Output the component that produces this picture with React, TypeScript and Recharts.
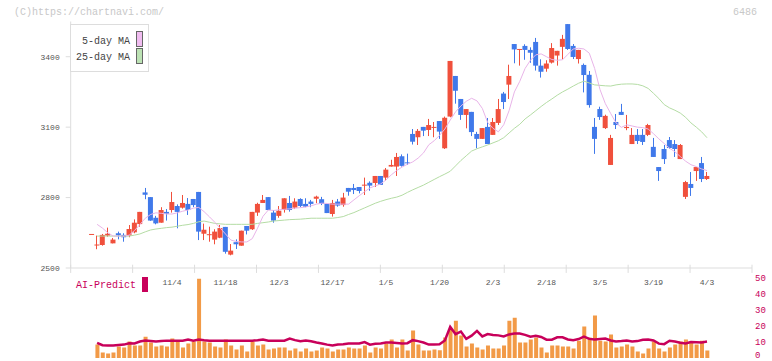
import React from "react";
import { ComposedChart, Bar, Line, XAxis, YAxis, ReferenceLine } from "recharts";

const MONO = "'Liberation Mono', 'DejaVu Sans Mono', monospace";
const RED = "#f0503c";
const BLUE = "#4079ea";
const CRIMSON = "#c8005a";

// daily candles (index 0 .. 115)
const openP = [
  2645, 2598, 2598, 2638, 2605, 2648, 2641, 2638, 2652, 2687,
  2822, 2802, 2714, 2693, 2739, 2747, 2764, 2757, 2773, 2794,
  2824, 2646, 2641, 2621, 2629, 2675, 2557, 2610, 2595, 2679,
  2665, 2736, 2777, 2802, 2736, 2722, 2747, 2777, 2757, 2794,
  2773, 2783, 2795, 2793, 2773, 2730, 2783, 2768, 2841, 2841,
  2845, 2851, 2863, 2862, 2892, 2885, 2932, 2932, 2976, 2950,
  3071, 3057, 3101, 3088, 3098, 3126, 3010, 3145, 3318, 3220,
  3152, 3165, 3071, 3050, 3101, 3067, 3118, 3243, 3281, 3454,
  3430, 3446, 3429, 3463, 3362, 3349, 3375, 3405, 3442, 3539,
  3446, 3390, 3365, 3323, 3101, 3177, 3096, 2939, 3122, 3165,
  3096, 3028, 3067, 3067, 3067, 3016, 2930, 3007, 3045, 3028,
  2964, 2803, 2858, 2913, 2947, 2879,
];
const highP = [
  2645, 2638, 2645, 2672, 2628, 2655, 2648, 2683, 2707, 2739,
  2841, 2802, 2722, 2759, 2751, 2824, 2771, 2811, 2798, 2794,
  2824, 2689, 2676, 2665, 2683, 2675, 2602, 2622, 2659, 2679,
  2739, 2778, 2811, 2802, 2747, 2764, 2797, 2807, 2797, 2797,
  2797, 2790, 2808, 2803, 2773, 2790, 2794, 2820, 2841, 2858,
  2845, 2885, 2869, 2892, 2892, 2926, 2961, 2990, 2984, 2987,
  3092, 3092, 3101, 3135, 3122, 3126, 3145, 3382, 3318, 3220,
  3177, 3165, 3080, 3096, 3139, 3139, 3220, 3250, 3366, 3454,
  3433, 3453, 3440, 3480, 3389, 3385, 3458, 3425, 3493, 3539,
  3454, 3429, 3371, 3339, 3139, 3187, 3153, 3067, 3156, 3199,
  3152, 3096, 3092, 3092, 3114, 3054, 2930, 3024, 3058, 3045,
  3028, 2871, 2909, 2930, 2973, 2909,
];
const lowP = [
  2645, 2580, 2595, 2633, 2605, 2622, 2612, 2631, 2648, 2676,
  2793, 2701, 2686, 2693, 2702, 2736, 2669, 2753, 2726, 2759,
  2619, 2619, 2612, 2601, 2627, 2561, 2554, 2581, 2595, 2643,
  2662, 2722, 2777, 2747, 2693, 2714, 2736, 2740, 2751, 2759,
  2759, 2759, 2776, 2768, 2734, 2719, 2761, 2761, 2808, 2815,
  2818, 2811, 2829, 2845, 2854, 2872, 2932, 2892, 2932, 2939,
  3026, 3024, 3062, 3062, 3057, 3050, 3007, 3142, 3200, 3131,
  3095, 3062, 3010, 3050, 3028, 3067, 3109, 3177, 3220, 3372,
  3362, 3387, 3374, 3341, 3311, 3336, 3371, 3362, 3389, 3429,
  3390, 3371, 3248, 3183, 2986, 3131, 3092, 2939, 3092, 3152,
  3087, 3028, 3028, 3024, 3062, 2973, 2871, 2943, 3007, 2973,
  2964, 2794, 2807, 2871, 2866, 2875,
];
const closeP = [
  2645, 2600, 2641, 2646, 2621, 2639, 2631, 2666, 2693, 2739,
  2812, 2702, 2690, 2747, 2731, 2781, 2739, 2777, 2747, 2768,
  2655, 2663, 2644, 2655, 2670, 2569, 2574, 2601, 2659, 2659,
  2739, 2773, 2790, 2747, 2702, 2744, 2797, 2747, 2783, 2764,
  2761, 2773, 2804, 2773, 2734, 2777, 2766, 2800, 2825, 2832,
  2828, 2855, 2851, 2892, 2854, 2919, 2939, 2973, 2935, 2946,
  3038, 3084, 3085, 3109, 3101, 3081, 3140, 3382, 3255, 3152,
  3177, 3079, 3050, 3096, 3028, 3122, 3177, 3207, 3318, 3431,
  3433, 3429, 3417, 3362, 3336, 3371, 3437, 3425, 3476, 3433,
  3399, 3429, 3322, 3194, 3050, 3143, 3148, 3054, 3109, 3152,
  3101, 3067, 3041, 3037, 3109, 2973, 2913, 2964, 3011, 3007,
  3024, 2866, 2841, 2930, 2879, 2892,
];

const ma5 = [
  null, 2686, 2670, 2650, 2636, 2636, 2636, 2640, 2660, 2685,
  2712, 2728, 2735, 2733, 2730, 2730, 2735, 2742, 2747, 2755,
  2758, 2740, 2718, 2695, 2670, 2645, 2619, 2613, 2611, 2611,
  2625, 2670, 2720, 2747, 2745, 2748, 2750, 2752, 2755, 2757,
  2760, 2765, 2772, 2776, 2775, 2772, 2772, 2772, 2772, 2790,
  2808, 2825, 2841, 2850, 2858, 2875, 2897, 2915, 2930, 2942,
  2952, 2968, 2990, 3025, 3042, 3065, 3092, 3130, 3165, 3190,
  3210, 3223, 3212, 3180, 3120, 3095, 3080, 3110, 3170, 3250,
  3295, 3350, 3385, 3408, 3412, 3400, 3388, 3385, 3387, 3410,
  3433, 3436, 3433, 3415, 3350, 3260, 3200, 3158, 3118, 3099,
  3110, 3105, 3100, 3098, 3092, 3072, 3050, 3030, 3010, 2995,
  2975, 2955, 2940, 2932, 2922, 2915,
];
const ma25 = [
  null, 2636, 2636, 2636, 2636, 2636, 2636, 2636, 2640, 2645,
  2654, 2662, 2666, 2669, 2672, 2674, 2678, 2682, 2685, 2690,
  2697, 2700, 2695, 2690, 2688, 2686, 2686, 2686, 2686, 2686,
  2686, 2690, 2693, 2696, 2700, 2702, 2704, 2706, 2707, 2708,
  2710, 2712, 2712, 2712, 2712, 2712, 2715, 2719, 2728, 2736,
  2746, 2756, 2766, 2776, 2784, 2791, 2797, 2802, 2810, 2822,
  2833, 2843, 2853, 2865, 2877, 2889, 2900, 2912, 2935, 2958,
  2978, 2998, 3008, 3016, 3024, 3033, 3042, 3055, 3075, 3095,
  3112, 3135, 3152, 3170, 3188, 3205, 3220, 3236, 3250, 3262,
  3275, 3287, 3296, 3288, 3280, 3278, 3276, 3275, 3280, 3283,
  3284, 3284, 3282, 3276, 3265, 3244, 3222, 3196, 3182, 3172,
  3160, 3142, 3118, 3100, 3080, 3055,
];

const volume = [
  null, 8.4, 3.4, 2.8, 3.4, 7.2, 6.6, 10.3, 7.8, 7.8,
  13.4, 9.7, 7.2, 7.8, 7.2, 12.2, 10.3, 6.6, 9.1, 10.3,
  49.7, 10.3, 9.7, 7.2, 6.6, 11.6, 7.8, 5.3, 7.8, 4.1,
  10.3, 7.8, 8.4, 5.3, 5.9, 6.6, 6.6, 4.7, 5.9, 4.1,
  5.9, 4.1, 4.7, 6.6, 5.9, 4.1, 5.3, 5.3, 6.6, 5.9,
  5.9, 7.8, 3.4, 6.6, 5.9, 9.1, 11.6, 6.6, 11.6, 4.7,
  17.2, 8.4, 4.7, 4.7, 5.3, 4.9, 12.8, 17.8, 23.4, 14.1,
  7.2, 9.1, 6.6, 5.3, 7.8, 5.9, 5.9, 7.8, 23.4, 25.3,
  9.7, 9.7, 11.6, 12.8, 6.6, 3.4, 7.8, 7.8, 7.2, 7.2,
  5.9, 10.9, 19.7, 12.8, 26.6, 10.9, 10.3, 14.7, 6.6, 7.2,
  8.4, 7.2, 4.1, 2.8, 5.9, 10.3, 5.9, 4.1, 6.6, 8.4,
  10.3, 11.6, 9.7, 8.4, 10.9, 4.7,
];
const aiPredict = [
  null, 9.5, 8.0, 7.8, 7.8, 8.2, 8.4, 9.3, 9.1, 10.3,
  10.9, 10.6, 10.3, 10.6, 10.9, 10.9, 10.9, 10.9, 11.6, 10.9,
  11.6, 11.2, 10.9, 10.9, 10.9, 10.9, 10.9, 10.9, 10.9, 10.9,
  10.9, 11.2, 11.6, 10.9, 10.9, 10.9, 10.9, 12.2, 11.2, 10.5,
  10.9, 10.5, 9.7, 9.1, 8.4, 7.8, 8.4, 8.7, 9.1, 9.1,
  9.1, 10.0, 8.4, 9.0, 9.1, 9.7, 9.7, 9.4, 9.1, 9.3,
  11.2, 10.6, 9.7, 8.4, 8.4, 8.6, 11.0, 19.5, 15.0, 16.6,
  12.0, 14.0, 17.0, 13.5, 15.0, 14.5, 14.2, 13.5, 14.8, 15.3,
  15.3, 14.5, 13.4, 14.0, 13.2, 11.5, 11.5, 13.0, 13.0, 11.6,
  11.2, 11.9, 13.4, 12.0, 11.6, 11.9, 12.2, 11.0, 10.4, 10.6,
  10.9, 10.4, 10.6, 11.4, 11.6, 11.0, 9.0, 8.7, 10.8, 10.3,
  9.6, 9.1, 10.0, 9.9, 9.7, 10.3,
];

const dateLabels = ["11/4", "11/18", "12/3", "12/17", "1/5", "1/20", "2/3", "2/18", "3/5", "3/19", "4/3"];
const dateIdx = [15, 25, 35, 45, 55, 65, 75, 85, 95, 105, 115];
const priceTicks = [2500, 2800, 3100, 3400];
const volTicks = [0, 10, 20, 30, 40, 50];

const X0 = -3.935;
const X1 = 123.41;
const gridTicks = Array.from({ length: 12 }, (_, k) => X0 + (k * (X1 - X0)) / 11);

const data = openP.map((o, i) => ({
  i,
  o,
  h: highP[i],
  l: lowP[i],
  c: closeP[i],
  range: [lowP[i], highP[i]],
  ma5: ma5[i],
  ma25: ma25[i],
  vol: volume[i],
  ai: aiPredict[i],
}));

function Candle(props: any) {
  const { x, y, width, height, payload } = props;
  const { o, h, l, c } = payload;
  const color = c >= o ? RED : BLUE;
  const k = h > l ? height / (h - l) : 0;
  const py = (v: number) => y + (h - v) * k;
  const top = py(Math.max(o, c));
  const bot = py(Math.min(o, c));
  const cx = Math.floor(x + width / 2) + 0.5;
  return (
    <g>
      <line x1={cx} x2={cx} y1={y} y2={y + height} stroke={color} strokeWidth={1} />
      <rect x={x} y={top} width={width} height={Math.max(bot - top, 1)} fill={color} />
    </g>
  );
}

function DateTick(p: any) {
  const n = dateIdx.indexOf(p.payload.value);
  return (
    <text x={p.x} y={p.y} dy={17} textAnchor="middle" fontSize={8} fill="#555" fontFamily={MONO}>
      {n >= 0 ? dateLabels[n] : ""}
    </text>
  );
}

function VolTick(p: any) {
  // keep the bottom label inside the picture
  const y = Math.min(p.y, 354.5 - 270);
  return (
    <text x={p.x} y={y} dy={3} textAnchor="start" fontSize={9} fill={CRIMSON} fontFamily={MONO}>
      {p.payload.value}
    </text>
  );
}

export default function App() {
  return (
    <div style={{ position: "absolute", left: 0, top: 0, width: 772, height: 361, background: "#fff", fontFamily: MONO }}>
      <div style={{ position: "absolute", left: 0, top: 270 }}>
        <ComposedChart width={772} height={91} data={data} margin={{ top: 8.3, right: 0, bottom: 3, left: 70.7 }}>
          <XAxis type="number" dataKey="i" domain={[X0, X1]} hide allowDataOverflow />
          <YAxis
            orientation="right"
            domain={[0, 50]}
            ticks={volTicks}
            interval={0}
            width={20}
            axisLine={false}
            tickLine={false}
            tickSize={0}
            tickMargin={3}
            tick={VolTick}
          />
          <Bar dataKey="vol" barSize={4} fill="#f29a47" isAnimationActive={false} />
          <Line dataKey="ai" stroke={CRIMSON} strokeWidth={2.5} dot={false} isAnimationActive={false} />
        </ComposedChart>
      </div>

      <div style={{ position: "absolute", left: 0, top: 0 }}>
        <ComposedChart width={772} height={300} data={data} margin={{ top: 21.5, right: 20, bottom: 2, left: 0 }}>
          <XAxis
            type="number"
            dataKey="i"
            domain={[X0, X1]}
            ticks={dateIdx}
            interval={0}
            allowDataOverflow
            stroke="#ddd"
            tickLine={false}
            tickSize={0}
            tickMargin={0}
            height={30}
            tick={DateTick}
          />
          <YAxis
            domain={[2500, 3550]}
            ticks={priceTicks}
            interval={0}
            allowDataOverflow
            width={70.7}
            stroke="#ddd"
            tickSize={5}
            tickMargin={6}
            tick={{ fontSize: 8, fill: "#555", fontFamily: MONO }}
          />
          {gridTicks.map((t) => (
            <ReferenceLine
              key={t}
              segment={[{ x: t, y: 2514 }, { x: t, y: 2479 }]}
              stroke="#ddd"
              ifOverflow="visible"
            />
          ))}
          <Line dataKey="ma25" stroke="#b4dca4" strokeWidth={1} dot={false} isAnimationActive={false} />
          <Line dataKey="ma5" stroke="#e8b4e8" strokeWidth={1} dot={false} isAnimationActive={false} />
          <Bar dataKey="range" barSize={5} shape={Candle} isAnimationActive={false} />
        </ComposedChart>
      </div>

      <div style={{ position: "absolute", left: 14, top: 6, fontSize: 10, color: "#c8c8c8", lineHeight: "13px" }}>
        (C)https://chartnavi.com/
      </div>
      <div style={{ position: "absolute", left: 733, top: 6, fontSize: 10, color: "#c8c8c8", lineHeight: "13px" }}>
        6486
      </div>

      <div
        style={{
          position: "absolute",
          left: 70,
          top: 24,
          width: 77,
          height: 46,
          border: "1px solid #ddd",
          background: "#fff",
          fontSize: 10,
          color: "#444",
        }}
      >
        <div style={{ position: "absolute", right: 18, top: 11, lineHeight: "12px" }}>5-day MA</div>
        <div style={{ position: "absolute", left: 65, top: 6, width: 5, height: 14, background: "#f0bcf0", border: "1px solid #666" }} />
        <div style={{ position: "absolute", right: 18, top: 27, lineHeight: "12px" }}>25-day MA</div>
        <div style={{ position: "absolute", left: 65, top: 23, width: 5, height: 14, background: "#bce2b4", border: "1px solid #666" }} />
      </div>

      <div style={{ position: "absolute", left: 76, top: 280, fontSize: 10, color: CRIMSON, lineHeight: "12px" }}>AI-Predict</div>
      <div style={{ position: "absolute", left: 142, top: 277, width: 6, height: 15, background: CRIMSON }} />
    </div>
  );
}
